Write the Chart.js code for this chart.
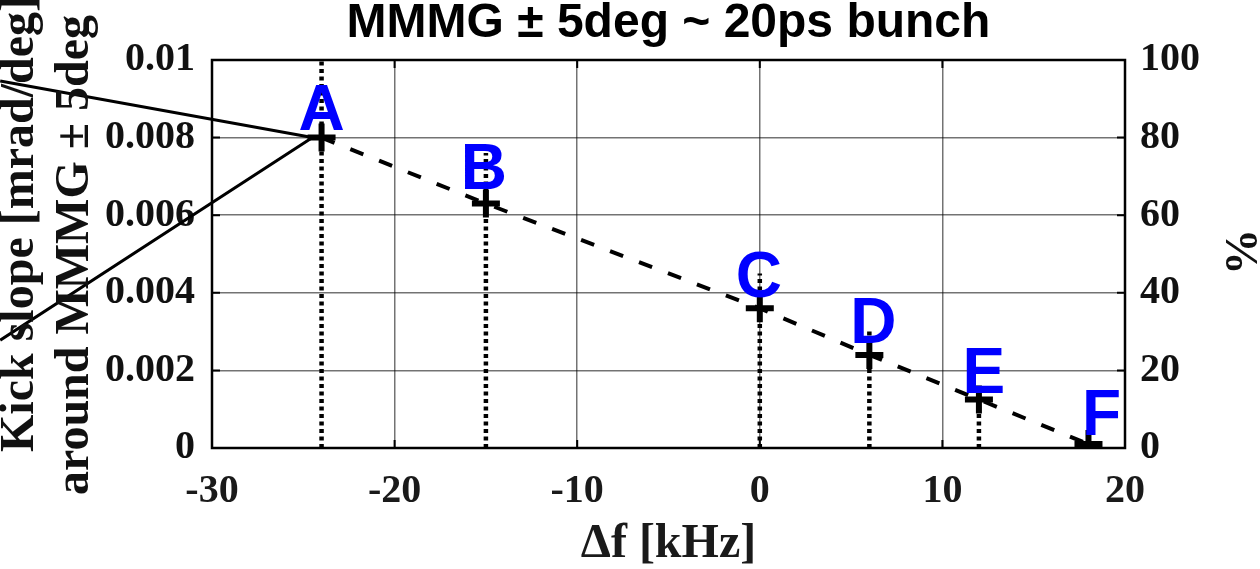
<!DOCTYPE html>
<html>
<head>
<meta charset="utf-8">
<title>Kick slope vs detuning</title>
<script src="https://cdn.jsdelivr.net/npm/chart.js@4.4.1/dist/chart.umd.min.js"></script>
<style>
    html, body { margin: 0; padding: 0; background: #fff; }
    canvas { display: block; }
</style>
</head>
<body>
<canvas id="kick-slope" width="1260" height="569"></canvas>
<script>
;(() => {
    // detuning of each setting [kHz] and the kick slope measured there
    const freqs = [-24, -15, 0, 6, 12, 18]
    const slopes = [0.008, 0.0063, 0.0036, 0.0024, 0.00125, 0.0001]
    const names = ['A', 'B', 'C', 'D', 'E', 'F']
    // upper end of each dotted drop line
    const stemTops = [0.01, 0.0076, 0.0045, 0.003, 0.0013, 0]
    // the two leader lines coming in from the left margin onto A
    const leaderStarts = [[-41.6, 0.00946], [-41.6, 0.00278]]
    const leaderEnd = [-24.5, 0.008]

    const xTicks = [-30, -20, -10, 0, 10, 20]
    const yTicks = [0, 0.002, 0.004, 0.006, 0.008, 0.01]
    const pctTicks = [0, 20, 40, 60, 80, 100]

    // label offsets in px (dx, dy) from the marker
    const labelNudge = [[0, -8], [-2, -15], [-1, -11], [4, -12], [5, -7], [13, -9]]

    const serif = "'Liberation Serif', 'Times New Roman', serif"
    const sans = "'Liberation Sans', Arial, sans-serif"
    const tickFont = { family: serif, size: 40, weight: 'bold' }
    const gridColor = 'rgba(0, 0, 0, 0.55)'

    const setTicks = (values) => (scale) => {
        scale.ticks = values.map((v) => ({ value: v }))
    }

    const stemPoints = freqs.flatMap((f, i) => [
        { x: f, y: 0 },
        { x: f, y: stemTops[i] },
        { x: f, y: null },
    ])
    const leaderPoints = leaderStarts.flatMap((s) => [
        { x: s[0], y: s[1] },
        { x: leaderEnd[0], y: leaderEnd[1] },
        { x: s[0], y: null },
    ])
    const measured = freqs.map((f, i) => ({ x: f, y: slopes[i] }))

    // plot frame plus short inward tick marks
    const framePlugin = {
        id: 'frame',
        beforeDatasetsDraw(chart) {
            const { ctx, chartArea: a, scales } = chart
            ctx.save()
            ctx.strokeStyle = '#000'
            ctx.lineWidth = 2
            scales.y.ticks.forEach((t) => {
                const y = scales.y.getPixelForValue(t.value)
                ctx.beginPath()
                ctx.moveTo(a.left, y); ctx.lineTo(a.left + 8, y)
                ctx.moveTo(a.right - 8, y); ctx.lineTo(a.right, y)
                ctx.stroke()
            })
            scales.x.ticks.forEach((t) => {
                const x = scales.x.getPixelForValue(t.value)
                ctx.beginPath()
                ctx.moveTo(x, a.top); ctx.lineTo(x, a.top + 8)
                ctx.moveTo(x, a.bottom - 8); ctx.lineTo(x, a.bottom)
                ctx.stroke()
            })
            ctx.lineWidth = 2.5
            ctx.strokeRect(a.left, a.top, a.right - a.left, a.bottom - a.top)
            ctx.restore()
        },
    }

    // A..F letters above the markers
    const letterPlugin = {
        id: 'letters',
        afterDatasetsDraw(chart) {
            const { ctx } = chart
            const pts = chart.getDatasetMeta(0).data
            ctx.save()
            ctx.font = `bold 64px ${sans}`
            ctx.fillStyle = '#0000ff'
            ctx.textAlign = 'center'
            ctx.textBaseline = 'alphabetic'
            pts.forEach((p, i) => {
                ctx.fillText(names[i], p.x + labelNudge[i][0], p.y + labelNudge[i][1])
            })
            ctx.restore()
        },
    }

    // vertical axis titles, both read bottom to top
    const sideTitlePlugin = {
        id: 'sideTitles',
        afterDraw(chart) {
            const { ctx } = chart
            const put = (text, x, y, font) => {
                ctx.save()
                ctx.translate(x, y)
                ctx.rotate(-Math.PI / 2)
                ctx.font = font
                ctx.fillStyle = '#111'
                ctx.textAlign = 'center'
                ctx.textBaseline = 'alphabetic'
                ctx.fillText(text, 0, 0)
                ctx.restore()
            }
            put('Kick slope [mrad/deg]', 33, 224, `bold 48px ${serif}`)
            put('around MMMG ± 5deg', 88, 255, `bold 48px ${serif}`)
            put('%', 1257, 252, `bold 46px ${serif}`)
        },
    }

    new Chart(document.getElementById('kick-slope'), {
        type: 'line',
        data: {
            datasets: [
                {
                    label: 'measured',
                    data: measured,
                    showLine: false,
                    pointStyle: 'cross',
                    pointRadius: 14,
                    pointBorderWidth: 6,
                    borderColor: '#000',
                    order: 0,
                },
                {
                    label: 'leaders',
                    data: leaderPoints,
                    borderColor: '#000',
                    borderWidth: 3,
                    pointRadius: 0,
                    spanGaps: false,
                    clip: false,
                    order: 1,
                },
                {
                    label: 'trend',
                    data: measured,
                    borderColor: '#000',
                    borderWidth: 4,
                    borderDash: [14, 17],
                    pointRadius: 0,
                    order: 2,
                },
                {
                    label: 'drop lines',
                    data: stemPoints,
                    borderColor: '#000',
                    borderWidth: 4.5,
                    borderDash: [4, 3.5],
                    borderCapStyle: 'butt',
                    pointRadius: 0,
                    spanGaps: false,
                    order: 3,
                },
            ],
        },
        options: {
            responsive: false,
            devicePixelRatio: 1,
            animation: false,
            layout: { padding: 0 },
            plugins: {
                legend: { display: false },
                tooltip: { enabled: false },
                title: {
                    display: true,
                    fullSize: false,
                    text: 'MMMG ± 5deg ~ 20ps bunch',
                    color: '#000',
                    font: { family: sans, size: 48, weight: 'bold', lineHeight: 1 },
                    padding: { top: 0, bottom: 12 },
                },
            },
            scales: {
                x: {
                    type: 'linear',
                    min: -30,
                    max: 20,
                    afterBuildTicks: setTicks(xTicks),
                    afterFit: (s) => { s.height = 121 },
                    grid: { color: gridColor, lineWidth: 1.5, drawTicks: false },
                    border: { display: false },
                    ticks: {
                        color: '#1a1a1a',
                        font: tickFont,
                        padding: 20,
                        maxRotation: 0,
                        callback: (v) => String(v),
                    },
                    title: {
                        display: true,
                        text: 'Δf [kHz]',
                        color: '#1a1a1a',
                        font: { family: serif, size: 48, weight: 'bold', lineHeight: 1 },
                        padding: { top: 0, bottom: 0 },
                    },
                },
                y: {
                    position: 'left',
                    min: 0,
                    max: 0.01,
                    afterBuildTicks: setTicks(yTicks),
                    afterFit: (s) => { s.width = 212 },
                    grid: { color: gridColor, lineWidth: 1.5, drawTicks: false },
                    border: { display: false },
                    ticks: {
                        color: '#111',
                        font: tickFont,
                        padding: 17,
                        callback: (v) => String(v),
                    },
                },
                y2: {
                    position: 'right',
                    min: 0,
                    max: 100,
                    afterBuildTicks: setTicks(pctTicks),
                    afterFit: (s) => { s.width = 135 },
                    grid: { drawOnChartArea: false, drawTicks: false },
                    border: { display: false },
                    ticks: {
                        color: '#111',
                        font: tickFont,
                        padding: 15,
                        callback: (v) => String(v),
                    },
                },
            },
        },
        plugins: [framePlugin, letterPlugin, sideTitlePlugin],
    })
})()
</script>
</body>
</html>
